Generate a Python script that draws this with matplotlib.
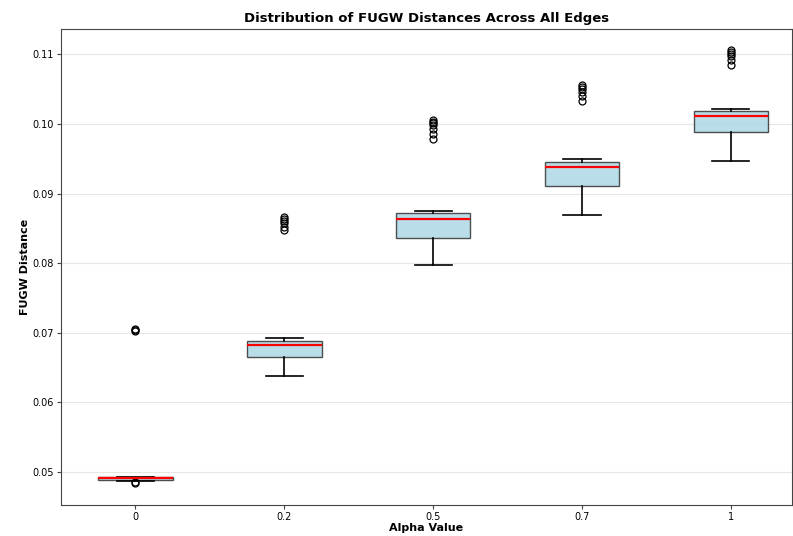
import matplotlib
matplotlib.use("Agg")
import matplotlib.pyplot as plt

# box statistics per alpha value
alphas = ["0", "0.2", "0.5", "0.7", "1"]
medians = [0.04910, 0.06830, 0.08640, 0.09386, 0.10120]
q1s = [0.04885, 0.06650, 0.08366, 0.09114, 0.09880]
q3s = [0.04925, 0.06880, 0.08717, 0.09458, 0.10187]
whis_lo = [0.04870, 0.06380, 0.07970, 0.08693, 0.09470]
whis_hi = [0.04930, 0.06930, 0.08754, 0.09493, 0.10220]
outliers = [
    [0.04846, 0.04860, 0.07030, 0.07040, 0.07050],
    [0.08470, 0.08520, 0.08570, 0.08610, 0.08640, 0.08660],
    [0.09780, 0.09850, 0.09930, 0.09980, 0.10010, 0.10030, 0.10050],
    [0.10330, 0.10400, 0.10460, 0.10500, 0.10530, 0.10560],
    [0.10850, 0.10920, 0.10980, 0.11010, 0.11040, 0.11060],
]

stats = []
for i in range(len(alphas)):
    stats.append({
        "label": alphas[i],
        "med": medians[i],
        "q1": q1s[i],
        "q3": q3s[i],
        "whislo": whis_lo[i],
        "whishi": whis_hi[i],
        "fliers": outliers[i],
    })

fig, ax = plt.subplots(figsize=(7.93, 5.36), dpi=100)
bp = ax.bxp(stats, widths=0.5, patch_artist=True,
            boxprops=dict(facecolor="lightblue", edgecolor="#333333", linewidth=1.0, alpha=0.85),
            medianprops=dict(color="red", linewidth=1.6),
            whiskerprops=dict(color="black", linewidth=1.2),
            capprops=dict(color="black", linewidth=1.2),
            flierprops=dict(marker="o", markerfacecolor="none", markeredgecolor="black",
                            markersize=5, markeredgewidth=0.9))

ax.set_ylim(0.04526, 0.11365)
ax.set_xlim(0.5, 5.41)
ax.grid(axis="y", color="#e6e6e6", linewidth=0.8)
ax.set_axisbelow(True)
ax.tick_params(labelsize=7, color="#444444", length=3, pad=2)
for s in ax.spines.values():
    s.set_color("#444444")

ax.set_title("Distribution of FUGW Distances Across All Edges", fontsize=9.5, fontweight="bold", pad=5)
ax.set_xlabel("Alpha Value", fontsize=8, fontweight="bold", labelpad=1)
ax.set_ylabel("FUGW Distance", fontsize=8, fontweight="bold", labelpad=2)

fig.subplots_adjust(left=0.077, right=0.9985, top=0.946, bottom=0.058)
fig.savefig("out.png", dpi=100)
